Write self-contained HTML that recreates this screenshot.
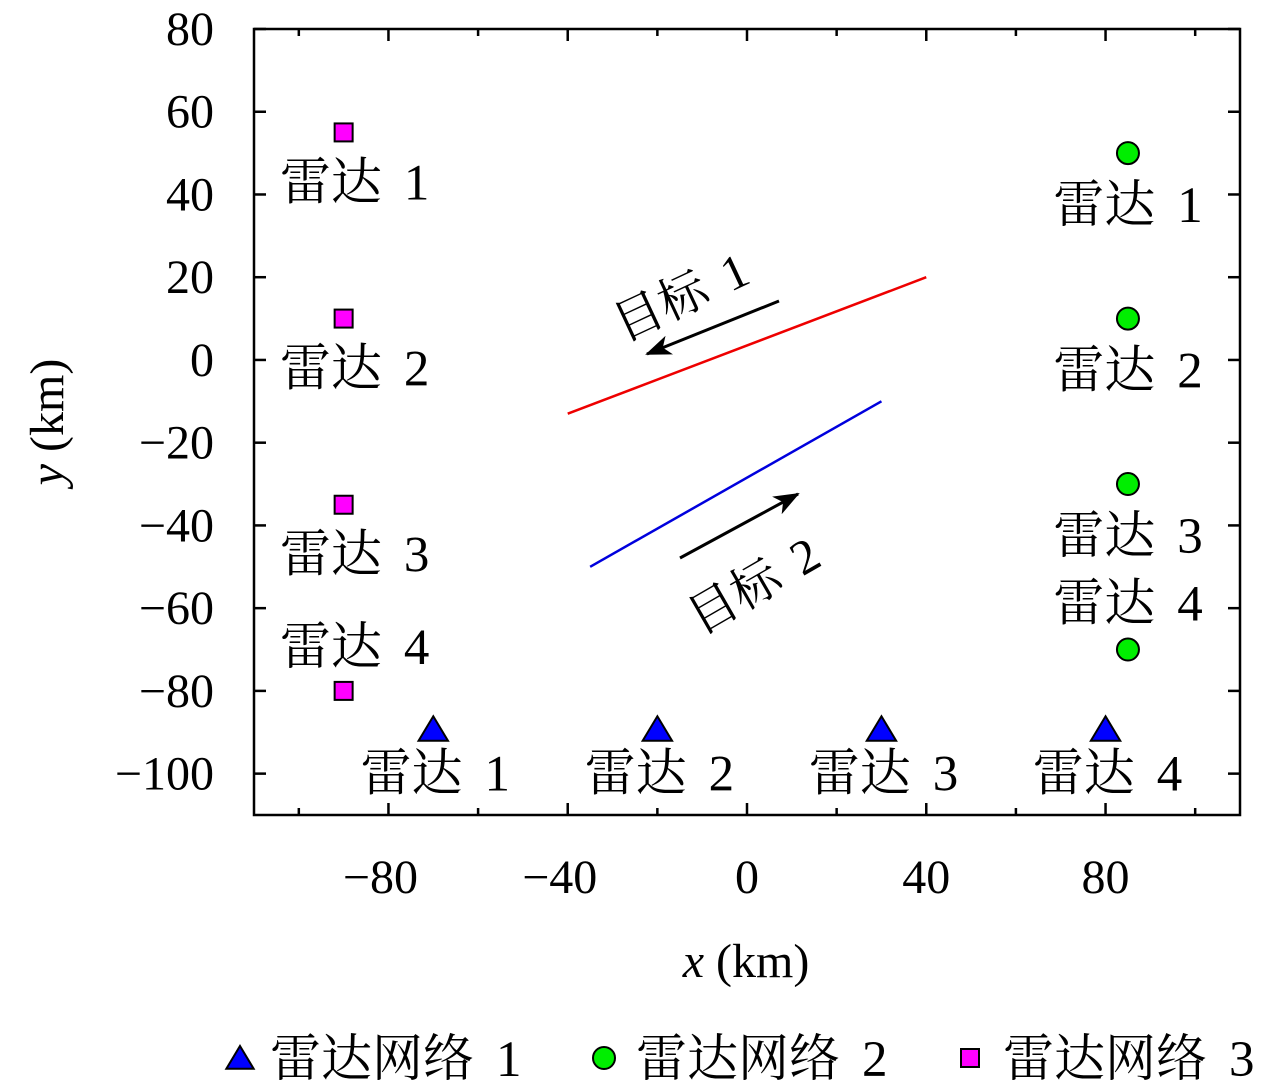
<!DOCTYPE html>
<html><head><meta charset="utf-8"><style>
html,body{margin:0;padding:0;background:#fff;}
svg{display:block;font-family:"Liberation Serif","Noto Serif CJK SC",serif;}
</style></head><body>
<svg id="chart" width="1280" height="1091" viewBox="0 0 1280 1091" xmlns="http://www.w3.org/2000/svg">
<defs>
<marker id="ah2" markerWidth="26" markerHeight="20" refX="24" refY="10" orient="auto" markerUnits="userSpaceOnUse"><path d="M0,0 L26,10 L0,20 L7,10 z" fill="#000"/></marker></defs>
<g id="plot"></g>
</svg>
<script>
const xTicks=[-80,-40,0,40,80];
const xMinor=[-100,-80,-60,-40,-20,0,20,40,60,80,100];
const yTicks=[80,60,40,20,0,-20,-40,-60,-80,-100];
const net1X=[-70,-20,30,80], net1Y=[-90,-90,-90,-90], net1Lab=["1","2","3","4"];
const net2X=[85,85,85,85], net2Y=[50,10,-30,-70], net2Lab=["1","2","3","4"];
const net3X=[-90,-90,-90,-90], net3Y=[55,10,-35,-80], net3Lab=["1","2","3","4"];
const target1X=[-40,40], target1Y=[-13,20];
const target2X=[-35,30], target2Y=[-50,-10];

const L=254,R=1240,T=29,B=815;
const sx=v=>L+(v+110)/220*(R-L);
const sy=v=>T+(80-v)/190*(B-T);
const g=document.getElementById('plot');
const NS='http://www.w3.org/2000/svg';
function mk(tag,attrs,parent){const e=document.createElementNS(NS,tag);for(const k in attrs)e.setAttribute(k,attrs[k]);(parent||g).appendChild(e);return e;}
function txt(x,y,s,size,anchor,parent){const t=mk('text',{x:x,y:y,'font-size':size,'text-anchor':anchor||'middle'},parent);t.textContent=s;return t;}
function rlab(x,y,num,parent){const t=mk('text',{x:x,y:y,'font-size':51,'text-anchor':'middle'},parent);
 t.innerHTML='雷达<tspan dx="22">'+num+'</tspan>';return t;}

const fr=mk('rect',{x:L,y:T,width:R-L,height:B-T,fill:'none',stroke:'#000','stroke-width':2.5});


xMinor.forEach(v=>{const len=xTicks.includes(v)?12:7;
 mk('line',{x1:sx(v),x2:sx(v),y1:B,y2:B-len,stroke:'#000','stroke-width':2.5});
 mk('line',{x1:sx(v),x2:sx(v),y1:T,y2:T+len,stroke:'#000','stroke-width':2.5});});
xTicks.forEach(v=>{const t=txt(sx(v)-(v<0?8:0),893,(v<0?'−':'')+Math.abs(v),48);
 
 });
yTicks.forEach(v=>{
 mk('line',{x1:L,x2:L+12,y1:sy(v),y2:sy(v),stroke:'#000','stroke-width':2.5});
 mk('line',{x1:R,x2:R-12,y1:sy(v),y2:sy(v),stroke:'#000','stroke-width':2.5});
 const t=txt(214,sy(v)+16,(v<0?'−':'')+Math.abs(v),48,'end');
 
 });
const xt=mk('text',{x:746,y:977,'font-size':48,'text-anchor':'middle'});xt.innerHTML='<tspan font-style="italic">x</tspan> (km)';


const yt=mk('text',{x:0,y:0,'font-size':48,'text-anchor':'middle',transform:'translate(63,422) rotate(-90)'});yt.innerHTML='<tspan font-style="italic">y</tspan> (km)';



const l1=mk('line',{x1:sx(target1X[0]),y1:sy(target1Y[0]),x2:sx(target1X[1]),y2:sy(target1Y[1]),stroke:'#e00','stroke-width':2.5});


const l2=mk('line',{x1:sx(target2X[0]),y1:sy(target2Y[0]),x2:sx(target2X[1]),y2:sy(target2Y[1]),stroke:'#00d','stroke-width':2.5});


const a1=mk('line',{x1:779,y1:301,x2:647,y2:354,stroke:'#000','stroke-width':3,'marker-end':'url(#ah2)'});


const a2=mk('line',{x1:680,y1:558,x2:798,y2:494,stroke:'#000','stroke-width':3,'marker-end':'url(#ah2)'});


const t1=mk('text',{x:0,y:0,'font-size':49,'text-anchor':'middle',transform:'translate(688,312) rotate(-25)'});t1.innerHTML='目标<tspan dx="20">1</tspan>';


const t2=mk('text',{x:0,y:0,'font-size':49,'text-anchor':'middle',transform:'translate(762,600) rotate(-30)'});t2.innerHTML='目标<tspan dx="20">2</tspan>';



function tri(cx,cy,s){return mk('path',{d:`M${cx},${cy-s} L${cx+s*1.05},${cy+s*0.75} L${cx-s*1.05},${cy+s*0.75} Z`,fill:'#00f',stroke:'#000','stroke-width':2});}
net1X.forEach((v,i)=>{const m=tri(sx(v),sy(net1Y[i])-2,14);
 
 
 const t=rlab(sx(v)+2,sy(net1Y[i])+58,net1Lab[i]);
 
 });
net2X.forEach((v,i)=>{const m=mk('circle',{cx:sx(v),cy:sy(net2Y[i]),r:11,fill:'#0e0',stroke:'#000','stroke-width':2});
 
 
 const off=[69,69,69,-29][i];
 const t=rlab(sx(v),sy(net2Y[i])+off,net2Lab[i]);
 
 });
net3X.forEach((v,i)=>{const m=mk('rect',{x:sx(v)-9,y:sy(net3Y[i])-9,width:18,height:18,fill:'#f0f',stroke:'#000','stroke-width':2});
 
 
 const off=[67,67,67,-27][i];
 const t=rlab(sx(v)+11,sy(net3Y[i])+off,net3Lab[i]);
 
 });

const lg=mk('g',{});


const lt=tri(240,1059,13);lg.appendChild(lt);
mk('circle',{cx:604,cy:1058,r:11,fill:'#0e0',stroke:'#000','stroke-width':2},lg);
mk('rect',{x:961,y:1049,width:18,height:18,fill:'#f0f',stroke:'#000','stroke-width':2},lg);
[[270,'1'],[636,'2'],[1003,'3']].forEach(([x,s])=>{const t=mk('text',{x:x,y:1076,'font-size':51,'text-anchor':'start'},lg);
 t.innerHTML='雷达网络<tspan dx="22">'+s+'</tspan>';
 
 });
</script>
</body></html>
